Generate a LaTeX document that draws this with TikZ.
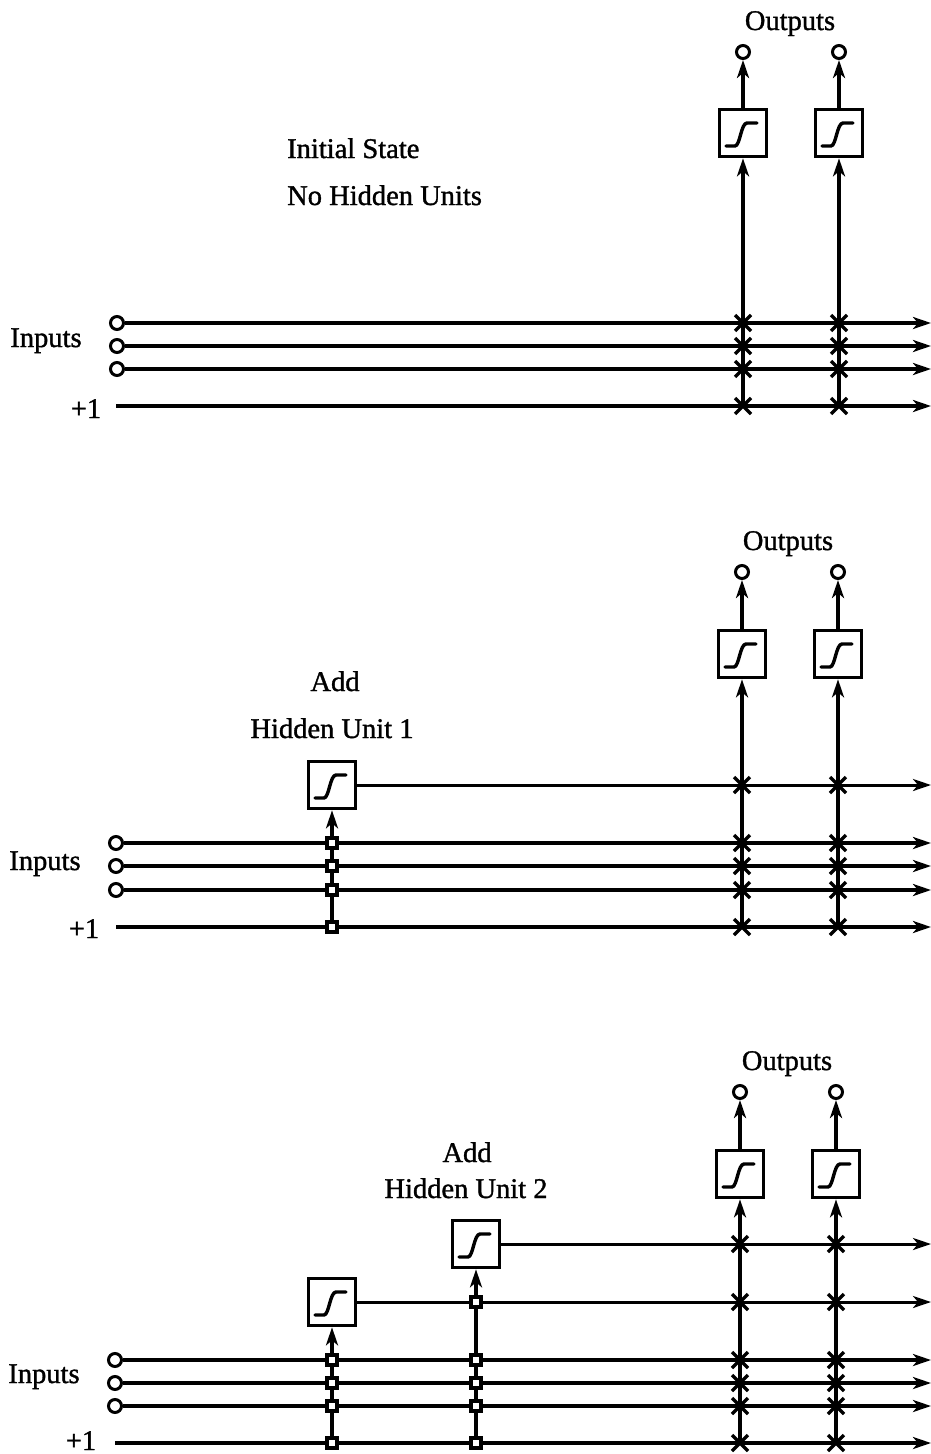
\documentclass[tikz,border=0pt]{standalone}
\usepackage{fontspec}
\setmainfont{Liberation Serif}[BoldFont={Liberation Serif},BoldFeatures={FakeBold=1.2}]
\usetikzlibrary{arrows.meta}
\begin{document}
\begin{tikzpicture}[x=1pt,y=-1pt,
 wire/.style={line width=3.4pt},
 hwire/.style={line width=3.0pt},
 tip/.style={-{Stealth[length=18pt,width=12pt,inset=5pt]}},
 incirc/.style={circle,draw,line width=3pt,minimum size=13pt,inner sep=0pt,fill=white},
 ubox/.style={draw,line width=3.6pt,minimum size=47pt,inner sep=0pt,fill=white,
   path picture={\begin{scope}[shift={(path picture bounding box.center)}]
     \draw[line width=3.4pt,line cap=round] (-17,13) -- (-8,13) .. controls (-3,13) and (-2,-10) .. (4,-10) -- (14,-10);
   \end{scope}}},
 lbl/.style={font=\fontsize{28.5}{34}\selectfont\bfseries,inner sep=0pt},
 xmk/.pic={\draw[line width=3.4pt] (-8,-8) -- (8,8) (-8,8) -- (8,-8);},
 smk/.pic={\draw[line width=3.6pt,fill=white] (-5,-5) rectangle (5,5);},
]
\useasboundingbox (0,0) rectangle (931,1454);

% ================= Panel 1 =================
\node[lbl,anchor=base] (p1out) at (790,30) {Outputs};
\node[lbl,anchor=base west] (p1t1) at (287,158) {Initial State};
\node[lbl,anchor=base west] (p1t2) at (287,205) {No Hidden Units};
\node[lbl,anchor=base] (p1in) at (46,347) {Inputs};
\node[lbl,anchor=base] (p1one) at (86,418) {+1};
\foreach \i/\y in {1/323,2/346,3/369} {
  \node[incirc] (p1i\i) at (117,\y) {};
  \coordinate (p1e\i) at (931,\y);
  \draw[wire,tip] (p1i\i) -- (p1e\i);
}
\coordinate (p1s4) at (116,406); \coordinate (p1e4) at (931,406);
\draw[wire,tip] (p1s4) -- (p1e4);
\foreach \j/\x in {1/743,2/839} {
  \node[ubox] (p1u\j) at (\x,133) {};
  \node[incirc] (p1o\j) at (\x,52) {};
  \coordinate (p1b\j) at (\x,406);
  \draw[wire,tip] (p1b\j) -- (p1u\j);
  \draw[wire,tip] (p1u\j) -- (p1o\j);
  \foreach \y in {323,346,369,406} {\pic at (\x,\y) {xmk};}
}

% ================= Panel 2 =================
\node[lbl,anchor=base] (p2out) at (788,550) {Outputs};
\node[lbl,anchor=base] (p2t1) at (335,691) {Add};
\node[lbl,anchor=base] (p2t2) at (332,738) {Hidden Unit 1};
\node[lbl,anchor=base] (p2in) at (45,870) {Inputs};
\node[lbl,anchor=base] (p2one) at (84,938) {+1};
\foreach \i/\y in {1/843,2/866,3/890} {
  \node[incirc] (p2i\i) at (116,\y) {};
  \coordinate (p2e\i) at (931,\y);
  \draw[wire,tip] (p2i\i) -- (p2e\i);
}
\coordinate (p2s4) at (116,927); \coordinate (p2e4) at (931,927);
\draw[wire,tip] (p2s4) -- (p2e4);
% hidden unit 1
\node[ubox] (p2h1) at (332,785) {};
\coordinate (p2h1e) at (931,785);
\coordinate (p2h1b) at (332,927);
\draw[hwire,tip] (p2h1) -- (p2h1e);
\draw[wire,tip] (p2h1b) -- (p2h1);
\foreach \y in {843,866,890,927} {\pic at (332,\y) {smk};}
\foreach \j/\x in {1/742,2/838} {
  \node[ubox] (p2u\j) at (\x,654) {};
  \node[incirc] (p2o\j) at (\x,572) {};
  \coordinate (p2b\j) at (\x,927);
  \draw[wire,tip] (p2b\j) -- (p2u\j);
  \draw[wire,tip] (p2u\j) -- (p2o\j);
  \foreach \y in {785,843,866,890,927} {\pic at (\x,\y) {xmk};}
}

% ================= Panel 3 =================
\node[lbl,anchor=base] (p3out) at (787,1070) {Outputs};
\node[lbl,anchor=base] (p3t1) at (467,1162) {Add};
\node[lbl,anchor=base] (p3t2) at (466,1198) {Hidden Unit 2};
\node[lbl,anchor=base] (p3in) at (44,1383) {Inputs};
\node[lbl,anchor=base] (p3one) at (81,1450) {+1};
\foreach \i/\y in {1/1360,2/1383,3/1406} {
  \node[incirc] (p3i\i) at (115,\y) {};
  \coordinate (p3e\i) at (931,\y);
  \draw[wire,tip] (p3i\i) -- (p3e\i);
}
\coordinate (p3s4) at (115,1443); \coordinate (p3e4) at (931,1443);
\draw[wire,tip] (p3s4) -- (p3e4);
% hidden unit 1
\node[ubox] (p3h1) at (332,1302) {};
\coordinate (p3h1e) at (931,1302);
\coordinate (p3h1b) at (332,1443);
\draw[hwire,tip] (p3h1) -- (p3h1e);
\draw[wire,tip] (p3h1b) -- (p3h1);
% hidden unit 2
\node[ubox] (p3h2) at (476,1244) {};
\coordinate (p3h2e) at (931,1244);
\coordinate (p3h2b) at (476,1443);
\draw[hwire,tip] (p3h2) -- (p3h2e);
\draw[wire,tip] (p3h2b) -- (p3h2);
\foreach \y in {1360,1383,1406,1443} {\pic at (332,\y) {smk};}
\foreach \y in {1302,1360,1383,1406,1443} {\pic at (476,\y) {smk};}
\foreach \j/\x in {1/740,2/836} {
  \node[ubox] (p3u\j) at (\x,1174) {};
  \node[incirc] (p3o\j) at (\x,1092) {};
  \coordinate (p3b\j) at (\x,1443);
  \draw[wire,tip] (p3b\j) -- (p3u\j);
  \draw[wire,tip] (p3u\j) -- (p3o\j);
  \foreach \y in {1244,1302,1360,1383,1406,1443} {\pic at (\x,\y) {xmk};}
}
\end{tikzpicture}
\end{document}
